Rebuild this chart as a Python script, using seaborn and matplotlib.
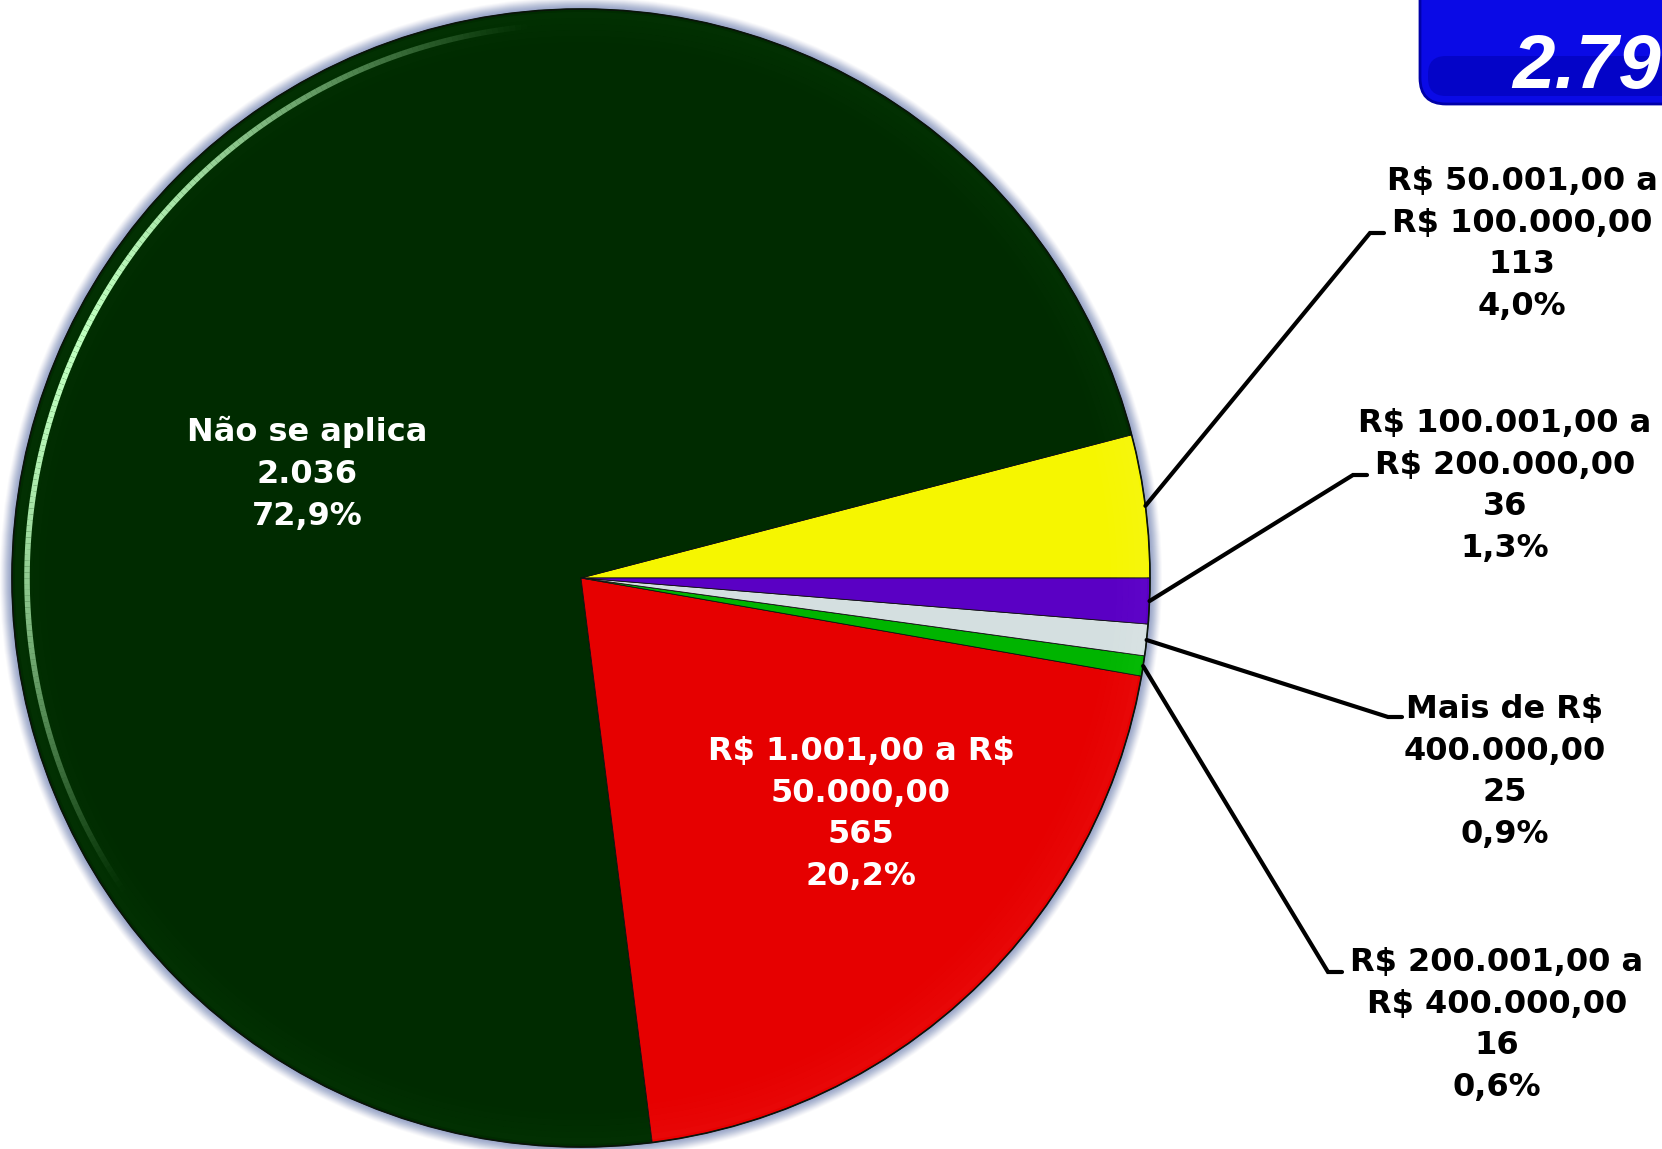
import numpy as np
import matplotlib.pyplot as plt
import seaborn as sns
from matplotlib.patches import Circle, FancyBboxPatch
from matplotlib.collections import LineCollection

sns.set_theme(style="white")
plt.rcParams['font.family'] = ['DejaVu Sans']
plt.rcParams['text.parse_math'] = False

#----------------------------------------------------------------------
# data (order = counter-clockwise from 3 o'clock)
faixas = ["R$ 50.001,00 a\nR$ 100.000,00",
          "Não se aplica",
          "R$ 1.001,00 a R$\n50.000,00",
          "R$ 200.001,00 a\nR$ 400.000,00",
          "Mais de R$\n400.000,00",
          "R$ 100.001,00 a\nR$ 200.000,00"]
qtd = [113, 2036, 565, 16, 25, 36]
cores = ["#f6f600", "#002b00", "#e60000", "#00b400", "#d4dfe0", "#5a00c4"]
rims = ["#ffff80", "#1a6a1a", "#ff5050", "#40f040", "#ffffff", "#8a30f0"]

total = sum(qtd)
W, H = 1662, 1149


def num(n):
    return f"{n:,}".replace(",", ".")


def pct(n):
    return f"{100 * n / total:.1f}%".replace(".", ",")


def py(y):
    return H - y


#----------------------------------------------------------------------
fig = plt.figure(figsize=(W / 100, H / 100), dpi=100)
ax = fig.add_axes([0, 0, 1, 1])
ax.set_xlim(0, W)
ax.set_ylim(0, H)
ax.set_aspect("equal")
ax.axis("off")

cx, cy, r = 581, py(578), 569

# soft bluish halo behind the pie
for i in range(12):
    ax.add_patch(Circle((cx, cy), r + 12 - i, color="#8f9cc4", alpha=0.05 + 0.02 * i,
                        lw=0, zorder=0))

wedges, _ = ax.pie(qtd, colors=cores, startangle=0, counterclock=True,
                   center=(cx, cy), radius=r, frame=True,
                   wedgeprops=dict(edgecolor="#101010", linewidth=0.6))
for w in wedges:
    w.set_zorder(2)

# soft lighter rim on each slice (a few thin rings fading inwards)
for k in range(6):
    rim, _ = ax.pie(qtd, colors=rims, startangle=0, counterclock=True,
                    center=(cx, cy), radius=r - 3 - 6 * k, frame=True,
                    wedgeprops=dict(width=6, linewidth=0, alpha=0.09 * (6 - k) / 6))
    for w in rim:
        w.set_zorder(3)

# highlight arc on the dark green slice
ang = np.radians(np.linspace(95, 215, 200))
rr = r - 15
pts = np.column_stack([cx + rr * np.cos(ang), cy + rr * np.sin(ang)])
segs = np.stack([pts[:-1], pts[1:]], axis=1)
alphas = np.sin(np.linspace(0, np.pi, len(segs))) ** 1.2
lc = LineCollection(segs, colors=[(0.75, 1.0, 0.75, a) for a in alphas], linewidths=4, zorder=4)
ax.add_collection(lc)
ax.add_patch(Circle((cx, cy), r, fill=False, ec="#0a140a", lw=1.2, zorder=4))

ax.set_xlim(0, W)
ax.set_ylim(0, H)

#----------------------------------------------------------------------
fs = 23
ls = 1.45

# inner labels
ax.text(307, py(474), f"{faixas[1]}\n{num(qtd[1])}\n{pct(qtd[1])}", color="white",
        fontsize=fs, fontweight="bold", ha="center", va="center", zorder=6, linespacing=ls)
ax.text(861, py(814), f"{faixas[2]}\n{num(qtd[2])}\n{pct(qtd[2])}", color="white",
        fontsize=fs, fontweight="bold", ha="center", va="center", zorder=6, linespacing=ls)

# outer labels with leader lines: (slice index, text centre, elbow, elbow end)
externos = [
    (0, (1522, 244), (1370, 233), (1384, 233)),
    (5, (1505, 486), (1353, 475), (1367, 475)),
    (4, (1505, 772), (1388, 717), (1402, 717)),
    (3, (1497, 1025), (1328, 972), (1342, 972)),
]
for i, (tx, ty), (ex, ey), (hx, hy) in externos:
    w = wedges[i]
    mid = np.radians((w.theta1 + w.theta2) / 2)
    sx, sy = cx + r * np.cos(mid), cy + r * np.sin(mid)
    ax.plot([sx, ex, hx], [sy, py(ey), py(hy)], color="black", lw=3,
            solid_joinstyle="miter", zorder=5)
    ax.text(tx, py(ty), f"{faixas[i]}\n{num(qtd[i])}\n{pct(qtd[i])}", color="black",
            fontsize=fs, fontweight="bold", ha="center", va="center", zorder=6, linespacing=ls)

#----------------------------------------------------------------------
# total box (top right, cut by the border as in the original)
box = FancyBboxPatch((1420, py(104)), 330, 200, boxstyle="round,pad=0,rounding_size=26",
                     fc="#0a0ae6", ec="#0000a8", lw=2, zorder=6, clip_on=False)
ax.add_patch(box)
ax.add_patch(FancyBboxPatch((1428, py(104) + 8), 320, 40, boxstyle="round,pad=0,rounding_size=18",
                            fc="#0000b4", ec="none", alpha=0.6, zorder=6))
ax.text(1512, py(88), num(total), color="white", fontsize=55, fontweight="bold",
        fontstyle="italic", family=["Liberation Sans", "DejaVu Sans"],
        ha="left", va="baseline", zorder=7)

fig.savefig("out.png", dpi=100)
